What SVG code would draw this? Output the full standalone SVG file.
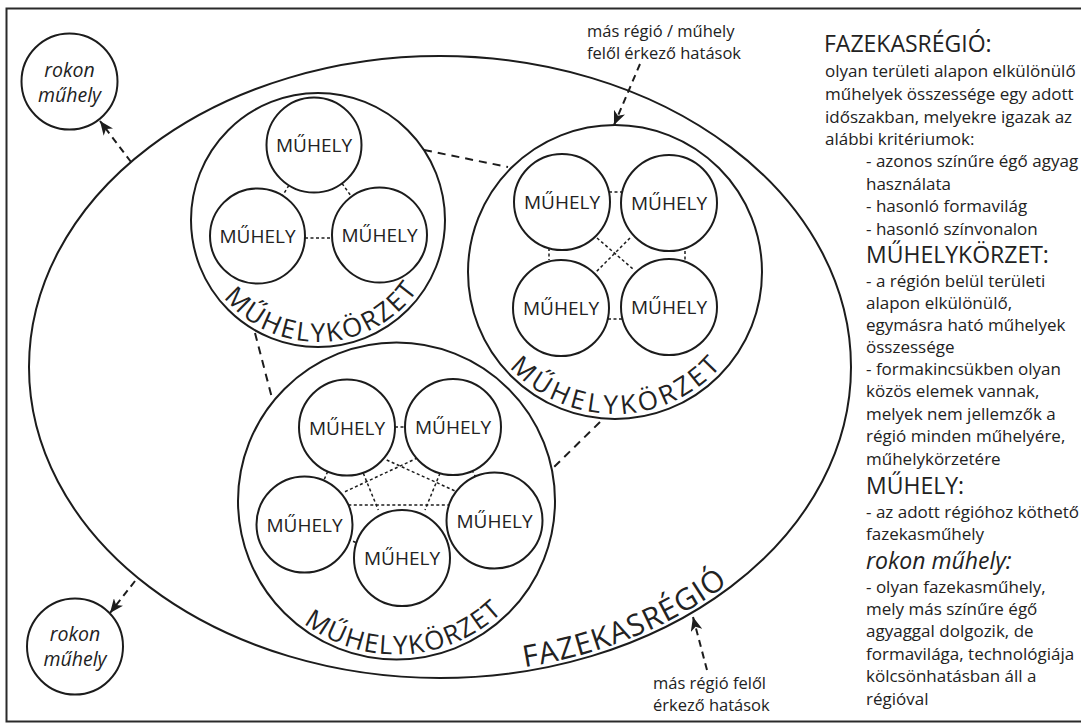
<svg xmlns="http://www.w3.org/2000/svg" width="1081" height="724" viewBox="0 0 1081 724">
<style>
 .ln{fill:none;stroke:#1c1c1c;stroke-width:2}
 .node{fill:#fff;stroke:#1c1c1c;stroke-width:2}
 .dash{fill:none;stroke:#1c1c1c;stroke-width:2;stroke-dasharray:8 6}
 .dot{fill:none;stroke:#1c1c1c;stroke-width:1.5;stroke-dasharray:3 2.5}
 .arrow{fill:none;stroke:#1c1c1c;stroke-width:2;stroke-dasharray:7 5;marker-end:url(#ah)}
 text{font-family:"Open Sans","Noto Sans",sans-serif;fill:#222}
 .m{font-size:19px;text-anchor:middle}
 .rk{font-size:19.5px;font-style:italic;text-anchor:middle}
 .arc{font-size:26px}
 .reg{font-size:30px;letter-spacing:1px}
 .h{font-size:23px}
 .b{font-size:17px}
 .s{font-size:16.5px}
</style>
<defs>
 <marker id="ah" markerUnits="userSpaceOnUse" markerWidth="16" markerHeight="12" refX="14" refY="6" orient="auto">
  <path d="M0,0 L14,6 L0,12 L4,6 Z" fill="#1c1c1c"/>
 </marker>
 <path id="pA" d="M196,220 A122,122 0 0 0 440,220"/>
 <path id="pB" d="M473,272 A142,142 0 0 0 757,272"/>
 <path id="pC" d="M243,501 A153.5,153.5 0 0 0 550,501"/>
 <path id="pE" d="M524.6,667.3 A407,307 0 0 0 822.5,472"/>
</defs>

<rect id="frame" x="6.5" y="8.5" width="1080" height="713" fill="#fff" stroke="#2a2a2a" stroke-width="2"/>

<g id="fazekasregio">
 <ellipse class="ln" cx="440" cy="367" rx="411" ry="311"/>
 <text class="reg"><textPath href="#pE" startOffset="0">FAZEKASRÉGIÓ</textPath></text>
</g>

<g id="korzet-a">
 <circle class="node" cx="318" cy="220" r="127"/>
 <text class="arc" text-anchor="middle" letter-spacing="2.2"><textPath href="#pA" startOffset="197">MŰHELYKÖRZET</textPath></text>
</g>
<g id="korzet-b">
 <circle class="node" cx="615" cy="272" r="147"/>
 <text class="arc" text-anchor="middle" letter-spacing="3.5"><textPath href="#pB" startOffset="225">MŰHELYKÖRZET</textPath></text>
</g>
<g id="korzet-c">
 <circle class="node" cx="396.5" cy="501" r="158.5"/>
 <text class="arc" text-anchor="middle" letter-spacing="1.5"><textPath href="#pC" startOffset="250">MŰHELYKÖRZET</textPath></text>
</g>

<g id="connectors">
 <line class="dash" x1="424" y1="150" x2="508" y2="167"/>
 <line class="dash" x1="255" y1="333" x2="272" y2="398"/>
 <line class="dash" x1="600" y1="422" x2="554" y2="467"/>
 <line class="arrow" x1="131" y1="162" x2="100" y2="121"/>
 <line class="arrow" x1="135" y1="581" x2="110" y2="613"/>
 <line class="arrow" x1="640" y1="64" x2="614" y2="125"/>
 <line class="arrow" x1="707" y1="670" x2="693" y2="617"/>
 <line class="dot" x1="288.9" y1="185.4" x2="282.6" y2="195.6"/>
 <line class="dot" x1="342" y1="183.4" x2="351.5" y2="196.6"/>
 <line class="dot" x1="305" y1="238" x2="332" y2="238"/>
 <line class="dot" x1="609" y1="192" x2="622" y2="192"/>
 <line class="dot" x1="549" y1="248" x2="549" y2="260"/>
 <line class="dot" x1="685" y1="251" x2="685" y2="260"/>
 <line class="dot" x1="608" y1="319" x2="622" y2="319"/>
 <line class="dot" x1="597" y1="238" x2="633" y2="269"/>
 <line class="dot" x1="630" y1="238" x2="595" y2="273"/>
 <line class="dot" x1="395" y1="427" x2="405" y2="427"/>
 <line class="dot" x1="327.7" y1="471.5" x2="323.8" y2="480.5"/>
 <line class="dot" x1="348" y1="539" x2="357" y2="543"/>
 <line class="dot" x1="445" y1="541" x2="451" y2="540"/>
 <line class="dot" x1="472" y1="470" x2="476" y2="478"/>
 <line class="dot" x1="345" y1="491.7" x2="416.7" y2="458.3"/>
 <line class="dot" x1="386.7" y1="460" x2="456.7" y2="491.7"/>
 <line class="dot" x1="348.3" y1="505" x2="450" y2="505"/>
 <line class="dot" x1="363.3" y1="473.3" x2="378.3" y2="510"/>
 <line class="dot" x1="440" y1="473.3" x2="425" y2="510"/>
</g>

<g id="muhely-a1"><circle class="node" cx="314" cy="145" r="47.5"/><text class="m" x="314" y="152">MŰHELY</text></g>
<g id="muhely-a2"><circle class="node" cx="257.5" cy="236" r="47.5"/><text class="m" x="257.5" y="243">MŰHELY</text></g>
<g id="muhely-a3"><circle class="node" cx="379.5" cy="235" r="47.5"/><text class="m" x="379.5" y="242">MŰHELY</text></g>

<g id="muhely-b1"><circle class="node" cx="562" cy="202" r="48"/><text class="m" x="562" y="209">MŰHELY</text></g>
<g id="muhely-b2"><circle class="node" cx="669" cy="203" r="48"/><text class="m" x="669" y="210">MŰHELY</text></g>
<g id="muhely-b3"><circle class="node" cx="561" cy="308" r="48"/><text class="m" x="561" y="315">MŰHELY</text></g>
<g id="muhely-b4"><circle class="node" cx="669" cy="307" r="48"/><text class="m" x="669" y="314">MŰHELY</text></g>

<g id="muhely-c1"><circle class="node" cx="347" cy="427.5" r="48"/><text class="m" x="347" y="434.5">MŰHELY</text></g>
<g id="muhely-c2"><circle class="node" cx="453" cy="427" r="48"/><text class="m" x="453" y="434">MŰHELY</text></g>
<g id="muhely-c3"><circle class="node" cx="304.5" cy="524.5" r="48"/><text class="m" x="304.5" y="531.5">MŰHELY</text></g>
<g id="muhely-c4"><circle class="node" cx="402" cy="558" r="48"/><text class="m" x="402" y="565">MŰHELY</text></g>
<g id="muhely-c5"><circle class="node" cx="494.5" cy="520.5" r="48"/><text class="m" x="494.5" y="527.5">MŰHELY</text></g>

<g id="rokon-1"><circle class="node" cx="69.5" cy="81.5" r="48"/><text class="rk" x="69.5" y="77">rokon</text><text class="rk" x="69.5" y="102">műhely</text></g>
<g id="rokon-2"><circle class="node" cx="75" cy="646.5" r="48"/><text class="rk" x="75" y="641">rokon</text><text class="rk" x="75" y="666">műhely</text></g>

<g id="hatas-labels">
 <text class="s" x="587" y="37">más régió / műhely</text>
 <text class="s" x="587" y="59">felől érkező hatások</text>
 <text class="s" x="653" y="689">más régió felől</text>
 <text class="s" x="653" y="711">érkező hatások</text>
</g>

<g id="legend">
 <text class="h" x="824" y="52">FAZEKASRÉGIÓ:</text>
 <text class="b" x="825" y="77">olyan területi alapon elkülönülő</text>
 <text class="b" x="825" y="100">műhelyek összessége egy adott</text>
 <text class="b" x="825" y="123">időszakban, melyekre igazak az</text>
 <text class="b" x="825" y="145">alábbi kritériumok:</text>
 <text class="b" x="866" y="167">- azonos színűre égő agyag</text>
 <text class="b" x="866" y="190">használata</text>
 <text class="b" x="866" y="212">- hasonló formavilág</text>
 <text class="b" x="866" y="235">- hasonló színvonalon</text>
 <text class="h" x="866" y="263">MŰHELYKÖRZET:</text>
 <text class="b" x="866" y="287">- a régión belül területi</text>
 <text class="b" x="866" y="309">alapon elkülönülő,</text>
 <text class="b" x="866" y="331">egymásra ható műhelyek</text>
 <text class="b" x="866" y="353">összessége</text>
 <text class="b" x="866" y="375">- formakincsükben olyan</text>
 <text class="b" x="866" y="397">közös elemek vannak,</text>
 <text class="b" x="866" y="420">melyek nem jellemzők a</text>
 <text class="b" x="866" y="442">régió minden műhelyére,</text>
 <text class="b" x="866" y="465">műhelykörzetére</text>
 <text class="h" x="866" y="494">MŰHELY:</text>
 <text class="b" x="866" y="518">- az adott régióhoz köthető</text>
 <text class="b" x="866" y="540">fazekasműhely</text>
 <text class="h" x="866" y="569" font-style="italic">rokon műhely:</text>
 <text class="b" x="866" y="593">- olyan fazekasműhely,</text>
 <text class="b" x="866" y="615">mely más színűre égő</text>
 <text class="b" x="866" y="637">agyaggal dolgozik, de</text>
 <text class="b" x="866" y="660">formavilága, technológiája</text>
 <text class="b" x="866" y="682">kölcsönhatásban áll a</text>
 <text class="b" x="866" y="705">régióval</text>
</g>
</svg>
